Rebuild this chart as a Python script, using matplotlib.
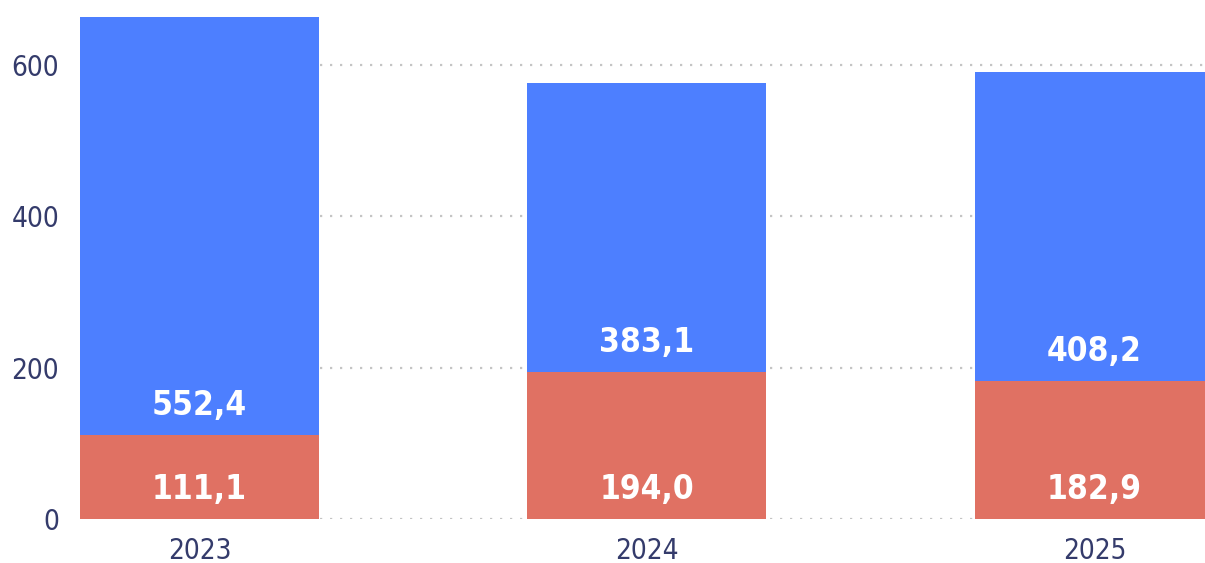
import numpy as np
import matplotlib
matplotlib.use("Agg")
import matplotlib.pyplot as plt

years = ["2023", "2024", "2025"]
bottom_vals = [111.1, 194.0, 182.9]
top_vals = [552.4, 383.1, 408.2]
y_ticks = [0, 200, 400, 600]

RED = "#E07163"
BLUE = "#4D7FFF"
NAVY = "#343B6B"

plt.rcParams["font.family"] = ["DejaVu Sans"]
plt.rcParams["font.stretch"] = "condensed"

fig = plt.figure(figsize=(12.05, 5.63), dpi=100)
ax = fig.add_axes([80 / 1205, 1 - 518.7 / 563, 1125 / 1205, (518.7 - 17) / 563])

x = np.arange(len(years))
width = 0.534
bottom_vals = np.array(bottom_vals)
top_vals = np.array(top_vals)

ax.bar(x, bottom_vals, width, color=RED, zorder=2)
ax.bar(x, top_vals, width, bottom=bottom_vals, color=BLUE, zorder=2)

def fmt(v):
    return f"{v:.1f}".replace(".", ",")

for xi, b, t in zip(x, bottom_vals, top_vals):
    ax.annotate(fmt(b), (xi, 0), xytext=(0, 21), textcoords="offset points",
                ha="center", va="center", color="white", fontsize=24, fontweight="bold", zorder=3)
    ax.annotate(fmt(t), (xi, b), xytext=(0, 21), textcoords="offset points",
                ha="center", va="center", color="white", fontsize=24, fontweight="bold", zorder=3)

ax.set_xlim(-width / 2, 2.247)
ax.set_ylim(0, 664)
ax.set_xticks(x)
ax.set_xticklabels(years)
ax.set_yticks(y_ticks)
ax.tick_params(axis="both", length=0, labelsize=20, labelcolor=NAVY)
ax.tick_params(axis="x", pad=13)
ax.tick_params(axis="y", pad=15)

ax.yaxis.grid(True, color="#C4C4C4", linestyle=(0, (1, 3.5)), linewidth=1.6, zorder=0)
ax.set_axisbelow(True)
for s in ax.spines.values():
    s.set_visible(False)

fig.savefig("out.png", dpi=100)
